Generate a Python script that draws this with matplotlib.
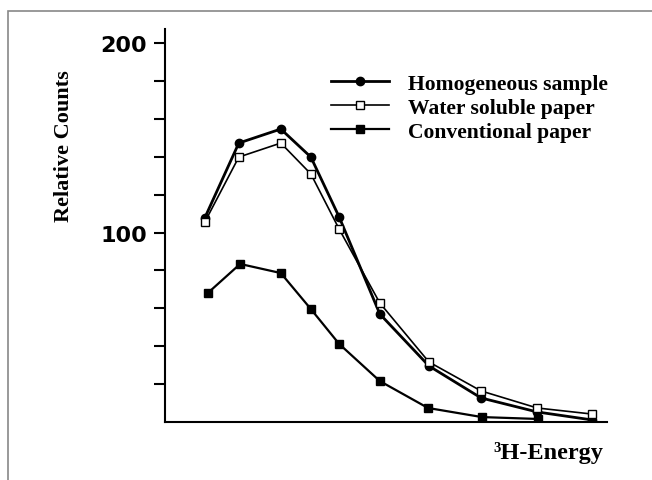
import matplotlib
matplotlib.use('Agg')
import matplotlib.pyplot as plt
from matplotlib.patches import Rectangle

# energy positions (arbitrary units, axis runs 0..10)
energy = [0.90, 1.67, 2.62, 3.30, 3.94, 4.86, 5.97, 7.15, 8.42, 9.66]
energy_conv = [0.97, 1.70, 2.62, 3.30, 3.94, 4.86, 5.95, 7.17, 8.44]

homogeneous = [107.7, 147.2, 154.6, 139.8, 108.2, 57.0, 29.6, 12.7, 5.3, 1.1]
water_soluble = [105.5, 139.8, 147.2, 130.9, 101.8, 62.8, 31.7, 16.4, 7.4, 4.2]
conventional = [68.1, 83.4, 78.6, 59.6, 41.2, 21.6, 7.4, 2.6, 1.6]

labels = ['Homogeneous sample', 'Water soluble paper', 'Conventional paper']

serif = ['Liberation Serif', 'DejaVu Serif']

fig = plt.figure(figsize=(6.52, 4.81), dpi=100)
ax = fig.add_axes([165 / 652, 1 - 423 / 481, 442 / 652, (423 - 30) / 481])

ax.plot(energy, homogeneous, color='black', lw=2.0, marker='o', ms=6,
        label=labels[0])
ax.plot(energy, water_soluble, color='black', lw=1.2, marker='s', ms=6,
        mfc='white', mec='black', mew=1.0, label=labels[1])
ax.plot(energy_conv, conventional, color='black', lw=1.6, marker='s', ms=5.5,
        label=labels[2])

ax.set_xlim(0, 10)
ax.set_ylim(0, 200 * (423 - 30) / (423 - 44))
ax.spines['top'].set_visible(False)
ax.spines['right'].set_visible(False)
ax.spines['left'].set_linewidth(1.5)
ax.spines['bottom'].set_linewidth(1.5)
ax.set_xticks([])
ax.set_yticks(range(20, 201, 20))
ax.set_yticklabels(['' if v not in (100, 200) else str(v) for v in range(20, 201, 20)])
ax.tick_params(axis='y', direction='out', length=8, width=1.5, pad=5)
for t in ax.get_yticklabels():
    t.set_fontweight('bold')
    t.set_fontsize(16)
    t.set_family('DejaVu Sans')

fig.text(64 / 652, 1 - 146 / 481, 'Relative Counts', rotation=90,
         ha='center', va='center', fontsize=16, fontweight='bold', family=serif)
fig.text(603 / 652, 1 - 453 / 481, '\u00b3H-Energy', ha='right',
         va='center', fontsize=17.5, fontweight='bold', family=serif)

leg = ax.legend(loc='upper left', bbox_to_anchor=((322 - 165) / 442, (423 - 66) / 393),
                frameon=False, handlelength=2.67, handletextpad=0.9,
                labelspacing=0.18, borderaxespad=0,
                prop={'family': serif, 'weight': 'bold', 'size': 15.6})

# outer frame of the original figure
fig.patches.append(Rectangle((8 / 652, -0.05), 1.1, 1 - 12 / 481 + 0.05,
                             transform=fig.transFigure, fill=False,
                             edgecolor='#888888', lw=1.2))

fig.savefig('out.png', dpi=100)
